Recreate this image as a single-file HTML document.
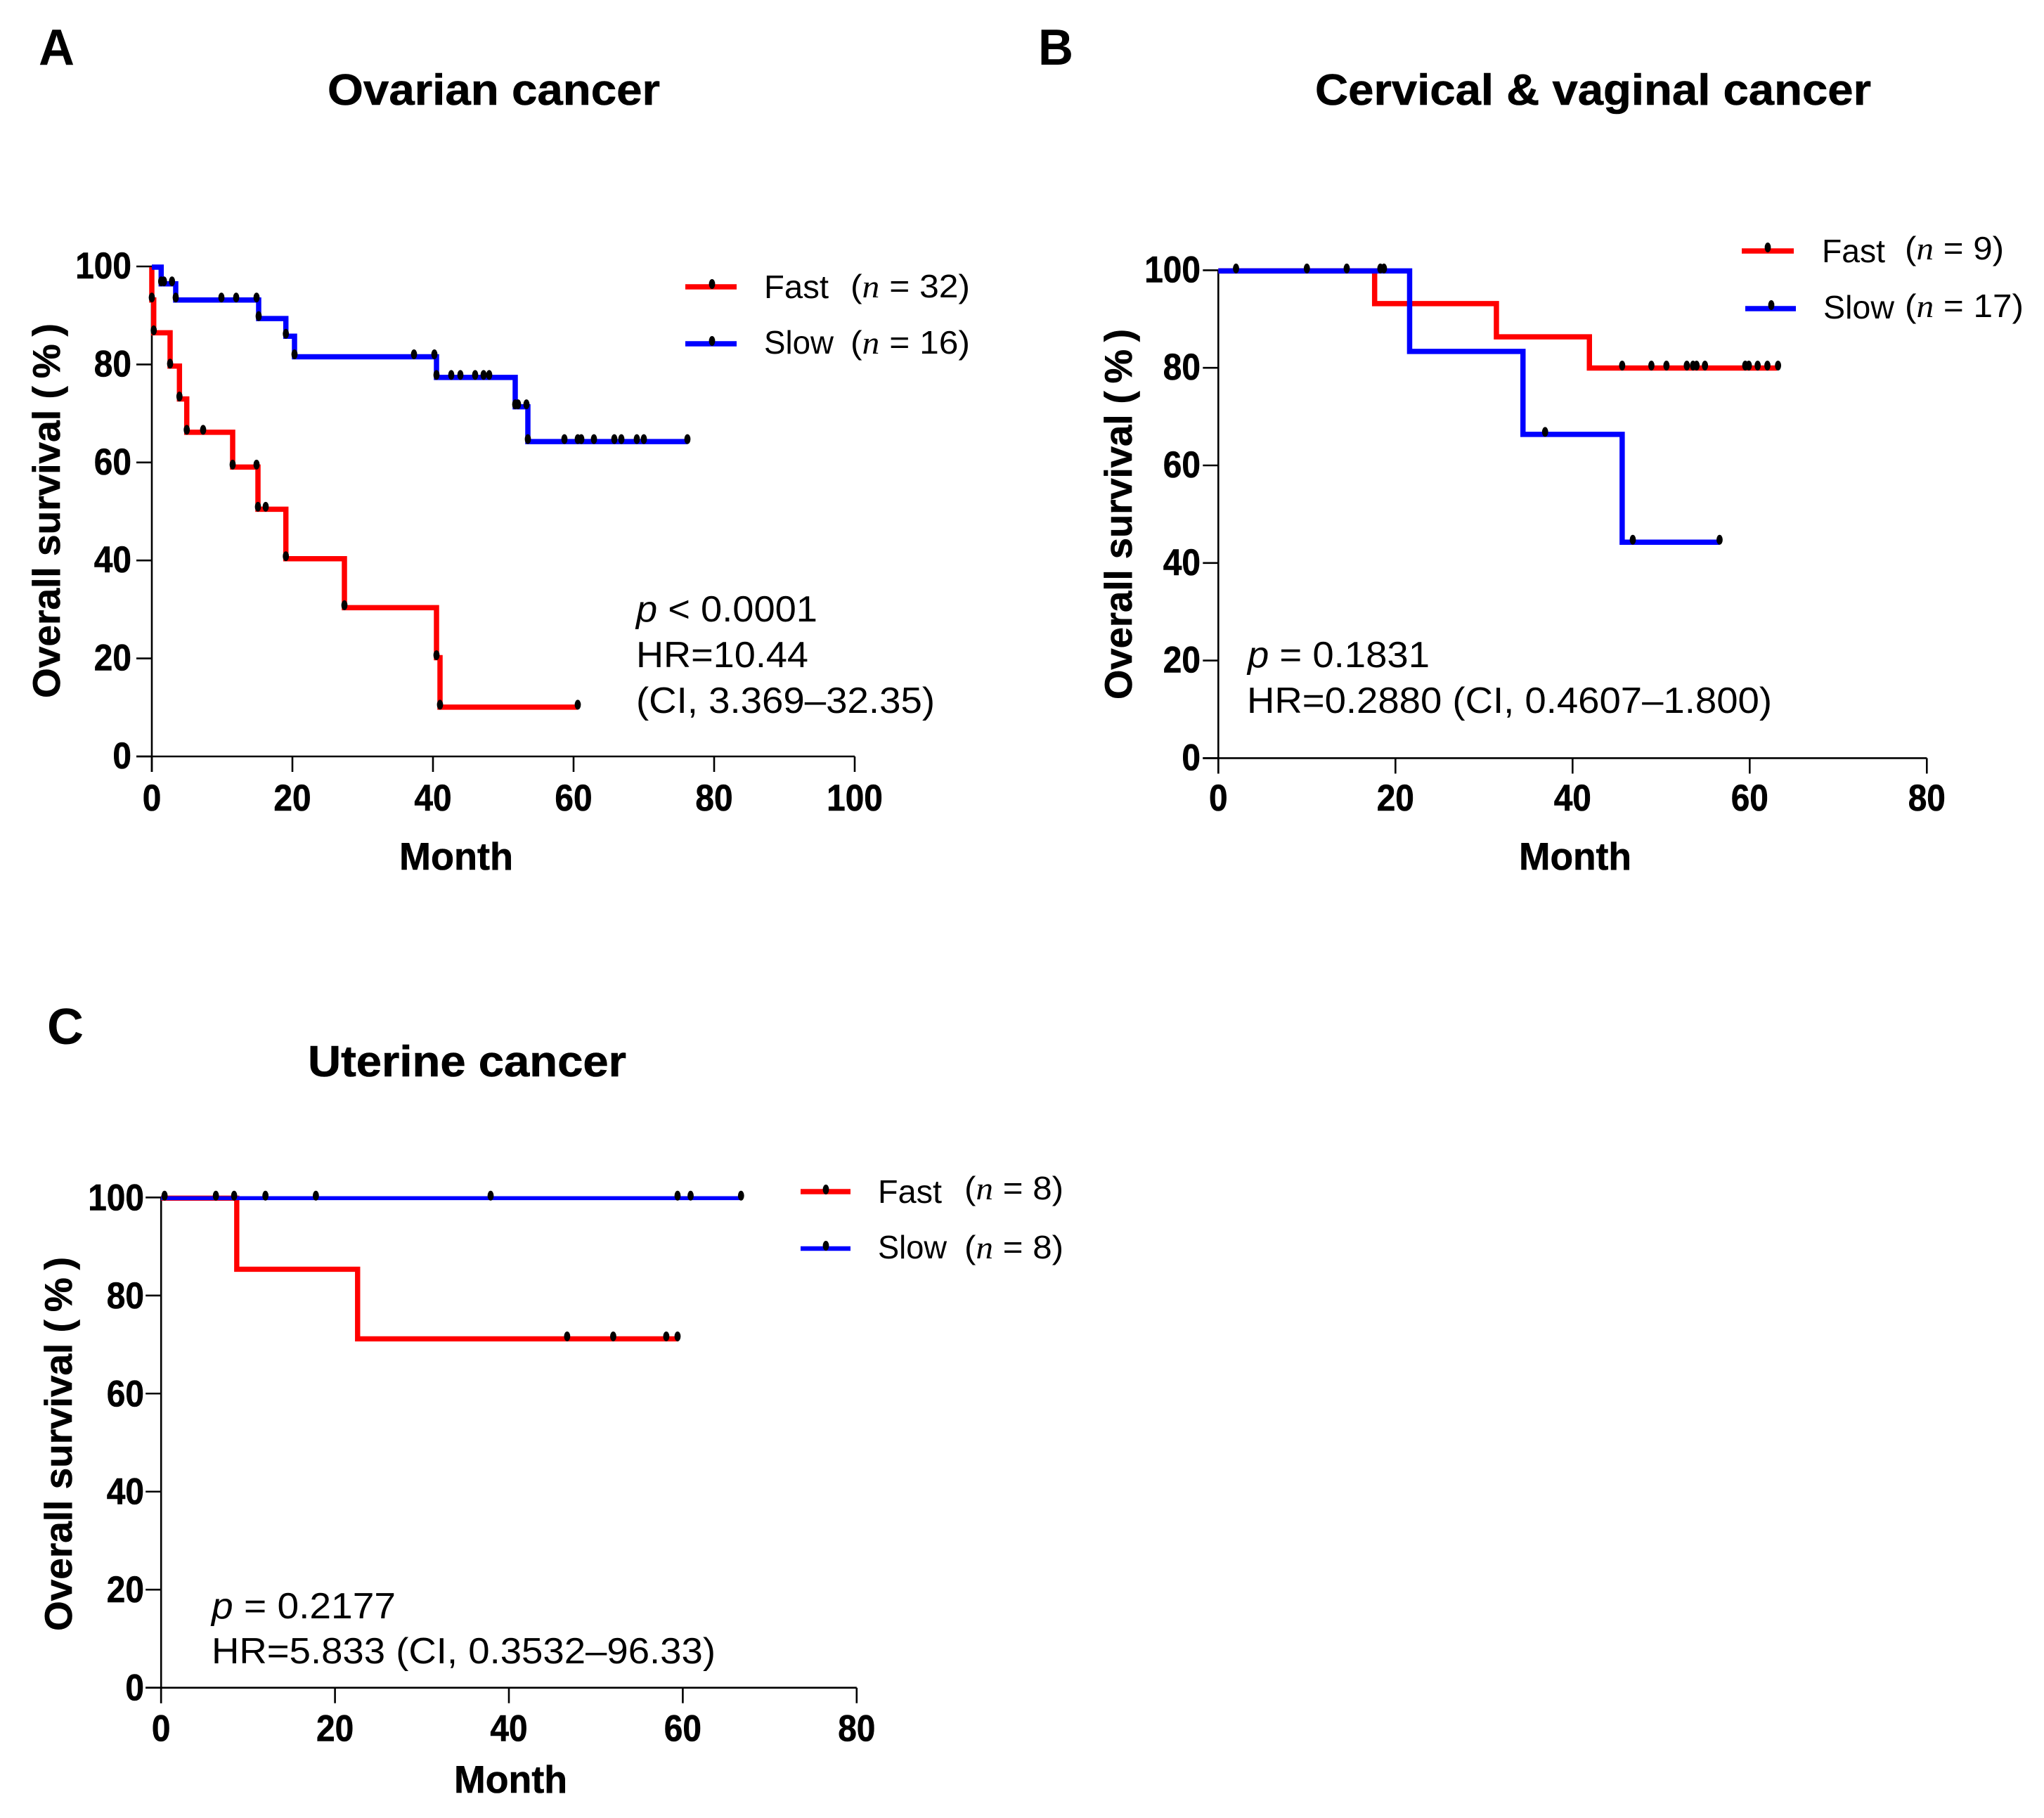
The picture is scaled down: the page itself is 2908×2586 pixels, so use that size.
<!DOCTYPE html>
<html lang="en">
<head>
<meta charset="utf-8">
<title>Overall survival by cancer type</title>
<style>
html,body{margin:0;padding:0;background:#fff;}
svg{display:block;}
text{font-family:"Liberation Sans",Arial,sans-serif;fill:#000;}
.panel{font-weight:700;font-size:72px;}
.title{font-weight:700;font-size:62px;stroke:#000;stroke-width:.6px;}
.axis-title{font-weight:700;font-size:55px;stroke:#000;stroke-width:.6px;}
.tick{font-weight:700;font-size:53px;stroke:#000;stroke-width:.6px;}
.note{font-size:52px;}
.legend{font-size:46px;}
.serif{font-family:"Liberation Serif",serif;font-style:italic;}
</style>
</head>
<body>
<svg id="chart" xmlns="http://www.w3.org/2000/svg" width="2908" height="2586" viewBox="0 0 2908 2586">
<rect x="0" y="0" width="2908" height="2586" fill="#fff"/>

<text class="panel" x="55" y="92" textLength="51" lengthAdjust="spacingAndGlyphs">A</text>
<text class="title" x="466" y="149" textLength="473" lengthAdjust="spacingAndGlyphs">Ovarian cancer</text>
<text class="axis-title" transform="translate(85,993) rotate(-90)" textLength="533" lengthAdjust="spacingAndGlyphs">Overall survival (&#8201;%&#8201;)</text>
<text class="axis-title" x="568" y="1237" textLength="162" lengthAdjust="spacingAndGlyphs">Month</text>
<text class="note" x="905" y="884" textLength="258" lengthAdjust="spacingAndGlyphs"><tspan font-style="italic">p</tspan> &lt; 0.0001</text>
<text class="note" x="905" y="949" textLength="245" lengthAdjust="spacingAndGlyphs">HR=10.44</text>
<text class="note" x="905" y="1014" textLength="425" lengthAdjust="spacingAndGlyphs">(CI, 3.369–32.35)</text>
<text class="legend" x="1087" y="424" textLength="92" lengthAdjust="spacingAndGlyphs">Fast</text>
<text class="legend" x="1210" y="423" textLength="170" lengthAdjust="spacingAndGlyphs">(<tspan class="serif">n</tspan> = 32)</text>
<text class="legend" x="1087" y="503" textLength="99" lengthAdjust="spacingAndGlyphs">Slow</text>
<text class="legend" x="1210" y="503" textLength="170" lengthAdjust="spacingAndGlyphs">(<tspan class="serif">n</tspan> = 16)</text>

<text class="panel" x="1477" y="92" textLength="50" lengthAdjust="spacingAndGlyphs">B</text>
<text class="title" x="1871" y="149" textLength="791" lengthAdjust="spacingAndGlyphs">Cervical &amp; vaginal cancer</text>
<text class="axis-title" transform="translate(1610,995) rotate(-90)" textLength="527" lengthAdjust="spacingAndGlyphs">Overall survival (&#8201;%&#8201;)</text>
<text class="axis-title" x="2161" y="1237" textLength="160" lengthAdjust="spacingAndGlyphs">Month</text>
<text class="note" x="1775" y="949" textLength="259" lengthAdjust="spacingAndGlyphs"><tspan font-style="italic">p</tspan> = 0.1831</text>
<text class="note" x="1774" y="1014" textLength="747" lengthAdjust="spacingAndGlyphs">HR=0.2880 (CI, 0.4607–1.800)</text>
<text class="legend" x="2592" y="373" textLength="90" lengthAdjust="spacingAndGlyphs">Fast</text>
<text class="legend" x="2710" y="369" textLength="141" lengthAdjust="spacingAndGlyphs">(<tspan class="serif">n</tspan> = 9)</text>
<text class="legend" x="2594" y="453" textLength="101" lengthAdjust="spacingAndGlyphs">Slow</text>
<text class="legend" x="2710" y="451" textLength="169" lengthAdjust="spacingAndGlyphs">(<tspan class="serif">n</tspan> = 17)</text>

<text class="panel" x="67" y="1485" textLength="52" lengthAdjust="spacingAndGlyphs">C</text>
<text class="title" x="438" y="1531" textLength="453" lengthAdjust="spacingAndGlyphs">Uterine cancer</text>
<text class="axis-title" transform="translate(102,2320) rotate(-90)" textLength="532" lengthAdjust="spacingAndGlyphs">Overall survival (&#8201;%&#8201;)</text>
<text class="axis-title" x="646" y="2550" textLength="161" lengthAdjust="spacingAndGlyphs">Month</text>
<text class="note" x="301" y="2302" textLength="262" lengthAdjust="spacingAndGlyphs"><tspan font-style="italic">p</tspan> = 0.2177</text>
<text class="note" x="301" y="2366" textLength="717" lengthAdjust="spacingAndGlyphs">HR=5.833 (CI, 0.3532–96.33)</text>
<text class="legend" x="1249" y="1711" textLength="91" lengthAdjust="spacingAndGlyphs">Fast</text>
<text class="legend" x="1372" y="1706" textLength="141" lengthAdjust="spacingAndGlyphs">(<tspan class="serif">n</tspan> = 8)</text>
<text class="legend" x="1249" y="1790" textLength="98" lengthAdjust="spacingAndGlyphs">Slow</text>
<text class="legend" x="1372" y="1790" textLength="141" lengthAdjust="spacingAndGlyphs">(<tspan class="serif">n</tspan> = 8)</text>
</svg>

<script>
// Panel A: ovarian cancer
const ovarianMonthTicks = [0, 20, 40, 60, 80, 100];
const ovarianSurvivalTicks = [0, 20, 40, 60, 80, 100];
const ovarianFastMonths = [0, 0, 0.27, 2.6, 3.93, 4.97, 11.5, 15.1, 19.07, 27.4, 40.5, 41, 60.6];
const ovarianFastSurvival = [100, 93.3, 86.6, 79.8, 73.1, 66.3, 59.2, 50.6, 40.5, 30.5, 20.3, 10.2, 10.2];
const ovarianFastCensored = [0, 0.27, 2.6, 3.93, 4.97, 7.3, 11.5, 14.9, 15.1, 16.2, 19.07, 27.4, 40.5, 41, 60.6];
const ovarianSlowMonths = [0, 1.33, 3.4, 15.2, 19.07, 20.3, 40.5, 51.7, 53.5, 76.2];
const ovarianSlowSurvival = [100, 96.6, 93.3, 89.5, 85.9, 81.7, 77.5, 71.5, 64.4, 64.4];
const ovarianSlowCensored = [1.33, 1.73, 2.87, 3.4, 9.9, 12, 14.9, 15.2, 19.07, 20.3, 37.3, 40.2, 40.5, 42.6, 43.9, 46, 47.2, 48, 51.7, 52.1, 53.3, 53.5, 58.7, 60.6, 61.1, 62.9, 65.8, 66.8, 69, 70, 76.2];

// Panel B: cervical and vaginal cancer
const cervicalMonthTicks = [0, 20, 40, 60, 80];
const cervicalSurvivalTicks = [0, 20, 40, 60, 80, 100];
const cervicalFastMonths = [0, 17.65, 31.4, 41.9, 63.1];
const cervicalFastSurvival = [100, 93.3, 86.5, 80.1, 80.1];
const cervicalFastCensored = [45.6, 48.9, 50.6, 52.9, 53.6, 54, 54.95, 59.5, 59.9, 60.9, 62, 63.2];
const cervicalSlowMonths = [0, 21.6, 34.4, 45.6, 56.6];
const cervicalSlowSurvival = [100, 83.5, 66.5, 44.4, 44.4];
const cervicalSlowCensored = [2, 10, 14.5, 18.3, 18.7, 36.9, 46.8, 56.6];

// Panel C: uterine cancer
const uterineMonthTicks = [0, 20, 40, 60, 80];
const uterineSurvivalTicks = [0, 20, 40, 60, 80, 100];
const uterineFastMonths = [0, 8.7, 22.6, 59.5];
const uterineFastSurvival = [100, 85.5, 71.3, 71.3];
const uterineFastCensored = [46.7, 52, 58.1, 59.4];
const uterineSlowMonths = [0, 66.7];
const uterineSlowSurvival = [100, 100];
const uterineSlowCensored = [0.4, 6.3, 8.4, 12, 17.8, 37.9, 59.4, 60.9, 66.7];

const NS = 'http://www.w3.org/2000/svg';
const svg = document.getElementById('chart');

function make(tag, props, text) {
  const el = document.createElementNS(NS, tag);
  for (const k in props) el.setAttribute(k, props[k]);
  if (text !== undefined) el.textContent = text;
  svg.appendChild(el);
  return el;
}

function levelAt(months, survival, month) {
  let level = survival[0];
  for (let i = 0; i < months.length; i++) {
    if (months[i] <= month) level = survival[i];
  }
  return level;
}

function drawSeries(id, color, width, months, survival, censored, xs, ys) {
  let d = 'M' + xs(months[0]) + ' ' + (ys(survival[0]) + 1);
  for (let i = 1; i < months.length; i++) {
    d += 'H' + xs(months[i]) + 'V' + (ys(survival[i]) + 1);
  }
  const line = make('path', {d: d, fill: 'none', stroke: color, 'stroke-width': width, 'stroke-linejoin': 'miter', 'stroke-linecap': 'butt'});
  
  
  censored.forEach(function (month) {
    const mark = make('ellipse', {cx: xs(month), cy: ys(levelAt(months, survival, month)) - 2.5, rx: 4.4, ry: 7, fill: '#000'});
    
    
  });
}

function drawAxes(id, f, monthTicks, survivalTicks, xs, ys) {
  const tickAttrs = {stroke: '#000', 'stroke-width': 2.6};
  const yAxis = make('line', Object.assign({x1: f.x0, x2: f.x0, y1: ys(survivalTicks[survivalTicks.length - 1]), y2: f.y0 + 22}, tickAttrs));
  
  
  const xAxis = make('line', Object.assign({x1: f.x0 - 22, x2: xs(monthTicks[monthTicks.length - 1]), y1: f.y0, y2: f.y0}, tickAttrs));
  
  
  monthTicks.forEach(function (value) {
    const tick = make('line', Object.assign({x1: xs(value), x2: xs(value), y1: f.y0, y2: f.y0 + 22}, tickAttrs));
    
    
    const label = make('text', {class: 'tick', x: xs(value), y: f.xLabelY, 'text-anchor': 'middle', textLength: String(value).length * 26.6, lengthAdjust: 'spacingAndGlyphs'}, value);
    
    
  });
  survivalTicks.forEach(function (value) {
    const tick = make('line', Object.assign({x1: f.x0 - 22, x2: f.x0, y1: ys(value), y2: ys(value)}, tickAttrs));
    
    
    const label = make('text', {class: 'tick', x: f.yLabelX, y: ys(value) + f.yLabelDrop, 'text-anchor': 'end', textLength: String(value).length * 26.6, lengthAdjust: 'spacingAndGlyphs'}, value);
    
    
  });
}

function drawLegendKey(id, color, width, x1, x2, y, markX, markY) {
  const key = make('line', {x1: x1, x2: x2, y1: y, y2: y, stroke: color, 'stroke-width': width});
  
  
  const mark = make('ellipse', {cx: markX, cy: markY, rx: 4.4, ry: 7, fill: '#000'});
  
  
}

function drawPanel(id, f, s) {
  const xs = function (m) { return f.x0 + m * f.pxPerMonth; };
  const ys = function (v) { return f.y0 - v * f.pxPerPercent; };
  drawAxes(id, f, s.monthTicks, s.survivalTicks, xs, ys);
  drawSeries(id + '-fast', '#ff0000', f.fastWidth, s.fastMonths, s.fastSurvival, s.fastCensored, xs, ys);
  drawSeries(id + '-slow', '#0000ff', f.slowWidth, s.slowMonths, s.slowSurvival, s.slowCensored, xs, ys);
}

drawPanel('ovarian',
  {x0: 216, pxPerMonth: 10, y0: 1076, pxPerPercent: 6.97, xLabelY: 1153, yLabelX: 187, yLabelDrop: 17, fastWidth: 7.5, slowWidth: 7.5},
  {monthTicks: ovarianMonthTicks, survivalTicks: ovarianSurvivalTicks,
   fastMonths: ovarianFastMonths, fastSurvival: ovarianFastSurvival, fastCensored: ovarianFastCensored,
   slowMonths: ovarianSlowMonths, slowSurvival: ovarianSlowSurvival, slowCensored: ovarianSlowCensored});
drawLegendKey('ovarian-fast', '#ff0000', 7.5, 975, 1048, 408, 1013, 404);
drawLegendKey('ovarian-slow', '#0000ff', 7.5, 975, 1048, 489, 1013, 485);

drawPanel('cervical',
  {x0: 1733.3, pxPerMonth: 12.6, y0: 1078.4, pxPerPercent: 6.94, xLabelY: 1153, yLabelX: 1708, yLabelDrop: 17, fastWidth: 7.5, slowWidth: 7.5},
  {monthTicks: cervicalMonthTicks, survivalTicks: cervicalSurvivalTicks,
   fastMonths: cervicalFastMonths, fastSurvival: cervicalFastSurvival, fastCensored: cervicalFastCensored,
   slowMonths: cervicalSlowMonths, slowSurvival: cervicalSlowSurvival, slowCensored: cervicalSlowCensored});
drawLegendKey('cervical-fast', '#ff0000', 7.5, 2478, 2552, 357, 2515, 352);
drawLegendKey('cervical-slow', '#0000ff', 7.5, 2483, 2555, 439, 2520, 434);

drawPanel('uterine',
  {x0: 229.2, pxPerMonth: 12.37, y0: 2400.7, pxPerPercent: 6.974, xLabelY: 2476.7, yLabelX: 205, yLabelDrop: 18, fastWidth: 7.4, slowWidth: 5.6},
  {monthTicks: uterineMonthTicks, survivalTicks: uterineSurvivalTicks,
   fastMonths: uterineFastMonths, fastSurvival: uterineFastSurvival, fastCensored: uterineFastCensored,
   slowMonths: uterineSlowMonths, slowSurvival: uterineSlowSurvival, slowCensored: uterineSlowCensored});
drawLegendKey('uterine-fast', '#ff0000', 7.4, 1139, 1210, 1695, 1175, 1692);
drawLegendKey('uterine-slow', '#0000ff', 6.5, 1139, 1210, 1776, 1175, 1772);
</script>
</body>
</html>
